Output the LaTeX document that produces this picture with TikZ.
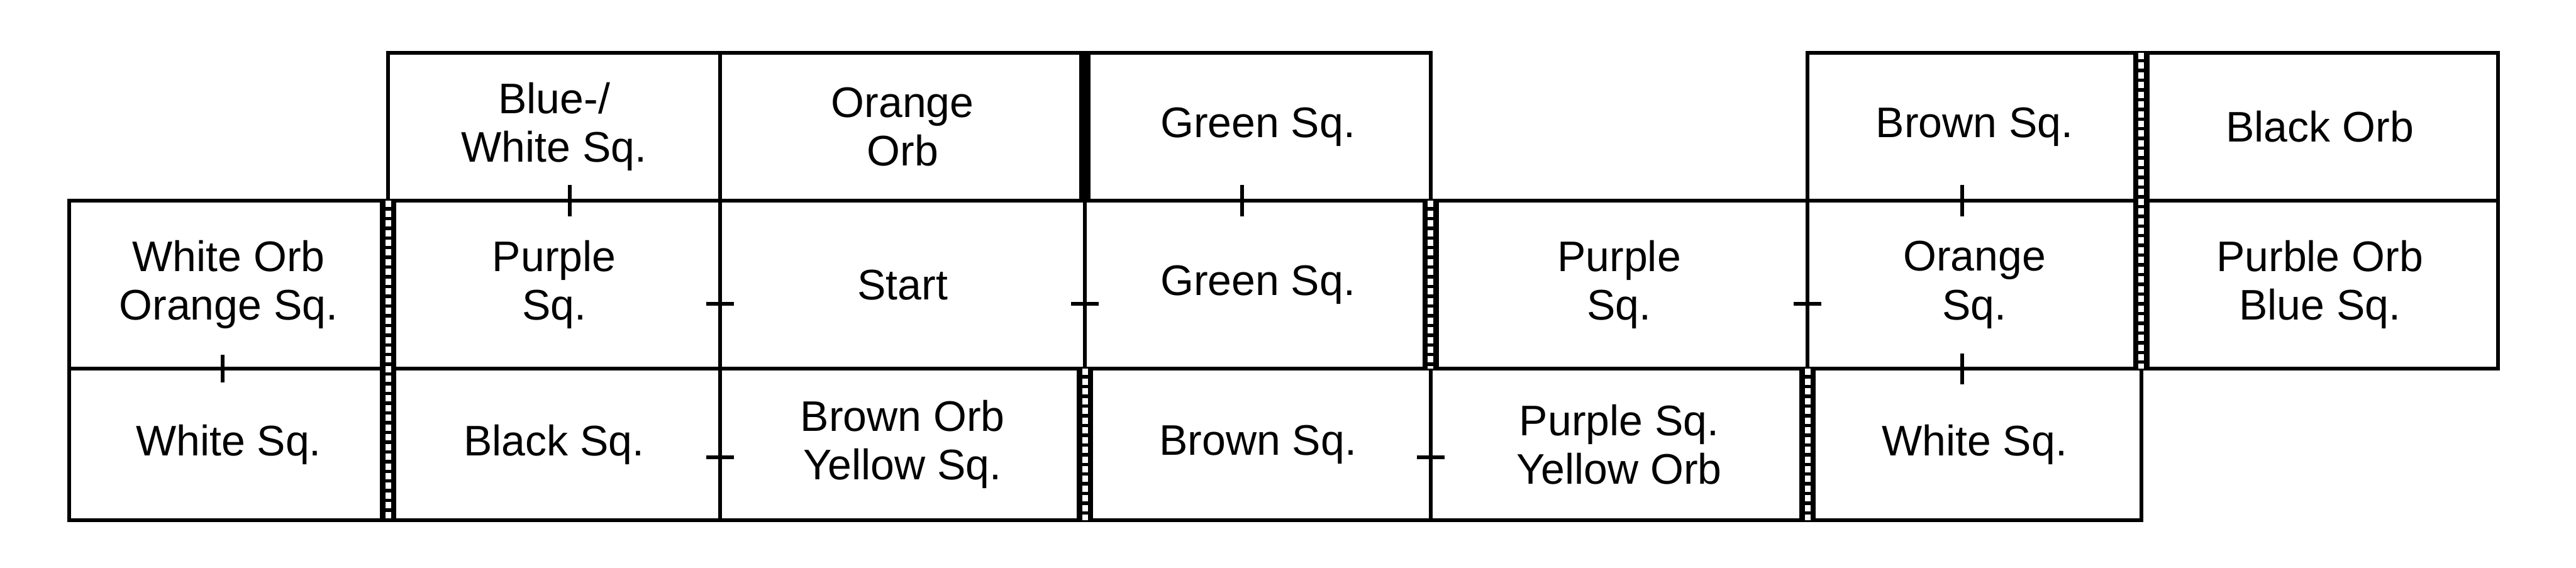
\documentclass[tikz,border=0pt]{standalone}
\usepackage{fontspec}
\setsansfont{Liberation Sans}
\usetikzlibrary{positioning}

\begin{document}
\begin{tikzpicture}[
  cell/.style={rectangle, draw=black, line width=0.06cm, inner sep=0pt, outer sep=0pt, align=center, font=\sffamily\fontsize{19.4}{22}\selectfont},
  toprow/.style={cell, minimum height=2.36cm},
  midrow/.style={cell, minimum height=2.68cm},
  botrow/.style={cell, minimum height=2.41cm},
  ladder/.style={draw, line width=0.26cm, postaction={draw=white, line width=0.09cm, dash pattern=on 0.1cm off 0.055cm}},
  wall/.style={draw, line width=0.18cm},
  door/.style={draw, line width=0.06cm},
]
  \useasboundingbox (0,0) rectangle (41.07,9.05);

  % ── Middle row ─────────────────────────────
  \node[midrow, minimum width=5.82cm] (start) at (14.39,4.51) {Start};
  \node[midrow, minimum width=5.29cm, left=0pt of start] (psqa) {Purple\\Sq.};
  \node[midrow, minimum width=5.09cm, left=0pt of psqa] (woos) {White Orb\\Orange Sq.};
  \node[midrow, minimum width=5.51cm, right=0pt of start] (gsqb) {Green Sq.};
  \node[midrow, minimum width=6.01cm, right=0pt of gsqb] (psqb) {Purple\\Sq.};
  \node[midrow, minimum width=5.32cm, right=0pt of psqb] (osq) {Orange\\Sq.};
  \node[midrow, minimum width=5.69cm, right=0pt of osq] (pobs) {Purble Orb\\Blue Sq.};

  % ── Top row ────────────────────────────────
  \node[toprow, minimum width=5.29cm, above=0pt of psqa] (bwsq) {Blue-/\\White Sq.};
  \node[toprow, minimum width=5.82cm, above=0pt of start] (oorb) {Orange\\Orb};
  \node[toprow, minimum width=5.51cm, above=0pt of gsqb] (gsqa) {Green Sq.};
  \node[toprow, minimum width=5.32cm, above=0pt of osq] (brsqb) {Brown Sq.};
  \node[toprow, minimum width=5.69cm, above=0pt of pobs] (borb) {Black Orb};

  % ── Bottom row ─────────────────────────────
  \node[botrow, minimum width=5.09cm, below=0pt of woos] (wsqa) {White Sq.};
  \node[botrow, minimum width=5.29cm, below=0pt of psqa] (blsq) {Black Sq.};
  \node[botrow, minimum width=5.82cm, below=0pt of start] (boys) {Brown Orb\\Yellow Sq.};
  \node[botrow, minimum width=5.51cm, below=0pt of gsqb] (brsqa) {Brown Sq.};
  \node[botrow, minimum width=6.01cm, below=0pt of psqb] (psyo) {Purple Sq.\\Yellow Orb};
  \node[botrow, minimum width=5.32cm, below=0pt of osq] (wsqb) {White Sq.};

  % ── Walls ──────────────────────────────────
  \draw[ladder] (woos.north east) -- (wsqa.south east);
  \draw[ladder] (boys.north east) -- (boys.south east);
  \draw[ladder] (gsqb.north east) -- (gsqb.south east);
  \draw[ladder] (psyo.north east) -- (psyo.south east);
  \draw[ladder] (brsqb.north east) -- (osq.south east);
  \draw[wall] (oorb.north east) -- (oorb.south east);

  % ── Doors ──────────────────────────────────
  \draw[door] ([yshift=-0.3cm]psqa.east) +(-0.22,0) -- +(0.22,0);
  \draw[door] ([yshift=-0.2cm]blsq.east) +(-0.22,0) -- +(0.22,0);
  \draw[door] ([yshift=-0.3cm]start.east) +(-0.22,0) -- +(0.22,0);
  \draw[door] ([yshift=-0.2cm]brsqa.east) +(-0.22,0) -- +(0.22,0);
  \draw[door] ([yshift=-0.3cm]psqb.east) +(-0.22,0) -- +(0.22,0);
  \draw[door] ([xshift=-0.1cm]woos.south) +(0,-0.22) -- +(0,0.22);
  \draw[door] ([xshift=0.25cm]bwsq.south) +(0,-0.25) -- +(0,0.25);
  \draw[door] ([xshift=-0.25cm]gsqa.south) +(0,-0.25) -- +(0,0.25);
  \draw[door] ([xshift=-0.2cm]brsqb.south) +(0,-0.25) -- +(0,0.25);
  \draw[door] ([xshift=-0.2cm]osq.south) +(0,-0.25) -- +(0,0.25);

\end{tikzpicture}
\end{document}
